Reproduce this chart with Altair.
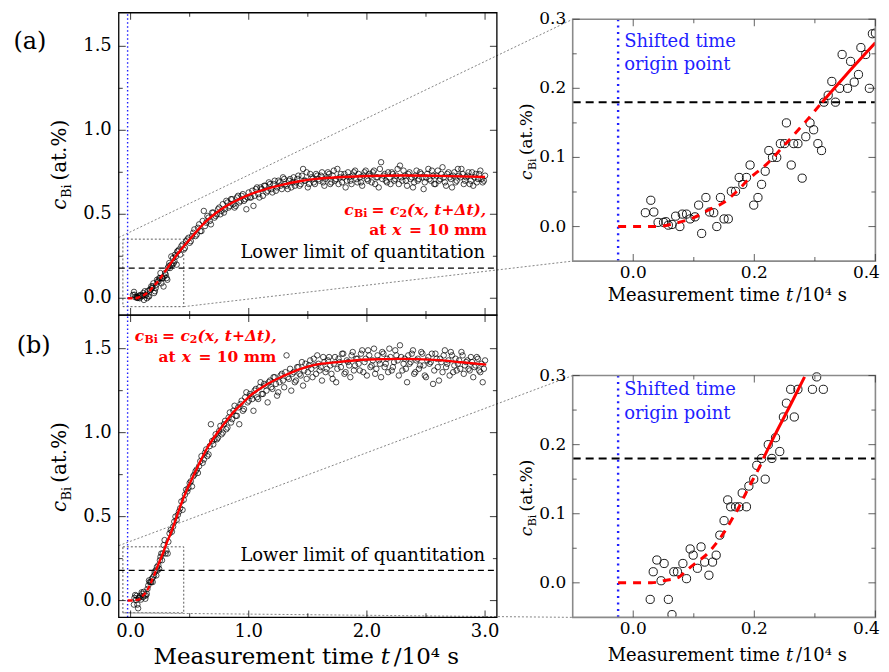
import altair as alt
import pandas as pd

FONT = "DejaVu Serif"

# ---------------- data ----------------
# (a) early points (also shown in the zoomed panel)
A_T_EARLY = [0.020, 0.029, 0.034, 0.041, 0.050, 0.054, 0.058, 0.064, 0.070, 0.077,
             0.081, 0.088, 0.094, 0.102, 0.108, 0.113, 0.120, 0.126, 0.133, 0.138,
             0.144, 0.150, 0.157, 0.162, 0.169, 0.175, 0.181, 0.187, 0.193, 0.199,
             0.206, 0.212, 0.218, 0.224, 0.230, 0.237, 0.243, 0.250, 0.253, 0.261,
             0.265, 0.272, 0.279, 0.285, 0.292, 0.298, 0.305, 0.311, 0.315, 0.322,
             0.328, 0.334, 0.341, 0.345, 0.354, 0.359, 0.365, 0.372, 0.376, 0.384,
             0.390, 0.395]
A_C_EARLY = [0.020, 0.038, 0.021, 0.006, 0.006, 0.007, 0.002, 0.003, 0.015, 0.000,
             0.018, 0.018, 0.011, 0.014, 0.031, -0.010, 0.042, 0.021, 0.020, 0.000,
             0.042, 0.011, 0.011, 0.051, 0.051, 0.071, 0.061, 0.071, 0.089, 0.031,
             0.042, 0.061, 0.080, 0.110, 0.100, 0.100, 0.120, 0.120, 0.150, 0.089,
             0.120, 0.120, 0.070, 0.130, 0.150, 0.140, 0.120, 0.110, 0.180, 0.190,
             0.210, 0.180, 0.200, 0.249, 0.200, 0.239, 0.209, 0.220, 0.259, 0.249,
             0.200, 0.279]
A_T_MAIN = [0.40, 0.42, 0.44, 0.46, 0.48, 0.50, 0.52, 0.54, 0.56, 0.58,
            0.60, 0.62, 0.64, 0.66, 0.68, 0.70, 0.72, 0.74, 0.76, 0.78,
            0.80, 0.82, 0.84, 0.86, 0.88, 0.90, 0.92, 0.94, 0.96, 0.98,
            1.00, 1.02, 1.04, 1.06, 1.08, 1.10, 1.12, 1.14, 1.16, 1.18,
            1.20, 1.22, 1.24, 1.26, 1.28, 1.30, 1.32, 1.34, 1.36, 1.38,
            1.40, 1.42, 1.44, 1.46, 1.48, 1.50, 1.52, 1.54, 1.56, 1.58,
            1.60, 1.62, 1.64, 1.66, 1.68, 1.70, 1.72, 1.74, 1.76, 1.78,
            1.80, 1.82, 1.84, 1.86, 1.88, 1.90, 1.92, 1.94, 1.96, 1.98,
            2.00, 2.02, 2.04, 2.06, 2.08, 2.10, 2.12, 2.14, 2.16, 2.18,
            2.20, 2.22, 2.24, 2.26, 2.28, 2.30, 2.32, 2.34, 2.36, 2.38,
            2.40, 2.42, 2.44, 2.46, 2.48, 2.50, 2.52, 2.54, 2.56, 2.58,
            2.60, 2.62, 2.64, 2.66, 2.68, 2.70, 2.72, 2.74, 2.76, 2.78,
            2.80, 2.82, 2.84, 2.86, 2.88, 2.90, 2.92, 2.94, 2.96, 2.98,
            3.00]
A_C_MAIN = [0.28, 0.26, 0.32, 0.30, 0.35, 0.33, 0.37, 0.41, 0.38, 0.44,
            0.40, 0.52, 0.45, 0.48, 0.44, 0.51, 0.49, 0.53, 0.50, 0.56,
            0.53, 0.57, 0.55, 0.59, 0.54, 0.60, 0.57, 0.61, 0.58, 0.53,
            0.63, 0.60, 0.55, 0.65, 0.62, 0.66, 0.61, 0.67, 0.64, 0.68,
            0.63, 0.70, 0.66, 0.69, 0.65, 0.71, 0.67, 0.70, 0.66, 0.72,
            0.69, 0.73, 0.68, 0.77, 0.70, 0.66, 0.74, 0.71, 0.68, 0.73,
            0.70, 0.75, 0.67, 0.72, 0.74, 0.69, 0.76, 0.71, 0.68, 0.74,
            0.72, 0.66, 0.75, 0.70, 0.73, 0.76, 0.69, 0.72, 0.67, 0.75,
            0.71, 0.74, 0.69, 0.76, 0.72, 0.66, 0.81, 0.73, 0.70, 0.75,
            0.68, 0.74, 0.71, 0.77, 0.79, 0.70, 0.73, 0.67, 0.75, 0.72,
            0.69, 0.76, 0.71, 0.74, 0.65, 0.72, 0.77, 0.70, 0.73, 0.68,
            0.76, 0.71, 0.78, 0.69, 0.74, 0.72, 0.66, 0.75, 0.70, 0.73,
            0.77, 0.68, 0.72, 0.75, 0.70, 0.67, 0.74, 0.71, 0.76, 0.69,
            0.73]
A_T_MAIN2 = [0.41, 0.43, 0.45, 0.47, 0.49, 0.51, 0.53, 0.55, 0.57, 0.59,
             0.61, 0.63, 0.65, 0.67, 0.69, 0.71, 0.73, 0.75, 0.77, 0.79,
             0.81, 0.83, 0.85, 0.87, 0.89, 0.91, 0.93, 0.95, 0.97, 0.99,
             1.01, 1.03, 1.05, 1.07, 1.09, 1.11, 1.13, 1.15, 1.17, 1.19,
             1.21, 1.23, 1.25, 1.27, 1.29, 1.31, 1.33, 1.35, 1.37, 1.39,
             1.41, 1.43, 1.45, 1.47, 1.49, 1.51, 1.53, 1.55, 1.57, 1.59,
             1.61, 1.63, 1.65, 1.67, 1.69, 1.71, 1.73, 1.75, 1.77, 1.79,
             1.81, 1.83, 1.85, 1.87, 1.89, 1.91, 1.93, 1.95, 1.97, 1.99,
             2.01, 2.03, 2.05, 2.07, 2.09, 2.11, 2.13, 2.15, 2.17, 2.19,
             2.21, 2.23, 2.25, 2.27, 2.29, 2.31, 2.33, 2.35, 2.37, 2.39,
             2.41, 2.43, 2.45, 2.47, 2.49, 2.51, 2.53, 2.55, 2.57, 2.59,
             2.61, 2.63, 2.65, 2.67, 2.69, 2.71, 2.73, 2.75, 2.77, 2.79,
             2.81, 2.83, 2.85, 2.87, 2.89, 2.91, 2.93, 2.95, 2.97, 2.99]
A_C_MAIN2 = [0.29, 0.31, 0.29, 0.34, 0.36, 0.34, 0.39, 0.37, 0.42, 0.40,
             0.46, 0.43, 0.49, 0.46, 0.51, 0.48, 0.50, 0.54, 0.52, 0.51,
             0.58, 0.54, 0.59, 0.56, 0.55, 0.61, 0.58, 0.62, 0.59, 0.60,
             0.60, 0.64, 0.61, 0.66, 0.60, 0.65, 0.67, 0.63, 0.69, 0.65,
             0.68, 0.64, 0.70, 0.67, 0.72, 0.68, 0.65, 0.71, 0.69, 0.67,
             0.71, 0.67, 0.73, 0.70, 0.75, 0.68, 0.72, 0.69, 0.74, 0.71,
             0.73, 0.69, 0.71, 0.75, 0.68, 0.73, 0.70, 0.77, 0.72, 0.69,
             0.74, 0.70, 0.72, 0.68, 0.75, 0.71, 0.74, 0.69, 0.73, 0.76,
             0.70, 0.73, 0.75, 0.68, 0.72, 0.77, 0.71, 0.74, 0.69, 0.72,
             0.75, 0.70, 0.73, 0.68, 0.72, 0.76, 0.70, 0.74, 0.71, 0.66,
             0.73, 0.70, 0.75, 0.72, 0.69, 0.74, 0.71, 0.76, 0.68, 0.73,
             0.70, 0.74, 0.72, 0.67, 0.75, 0.71, 0.73, 0.69, 0.77, 0.72,
             0.74, 0.70, 0.73, 0.68, 0.75, 0.72, 0.69, 0.74, 0.71, 0.70]

# (b)
B_T_EARLY = [0.028, 0.033, 0.039, 0.046, 0.051, 0.058, 0.064, 0.067, 0.073, 0.082,
             0.088, 0.094, 0.099, 0.106, 0.112, 0.118, 0.125, 0.131, 0.137, 0.143,
             0.150, 0.156, 0.161, 0.169, 0.175, 0.180, 0.187, 0.191, 0.199, 0.204,
             0.212, 0.218, 0.223, 0.229, 0.235, 0.242, 0.248, 0.253, 0.260, 0.266,
             0.272, 0.280, 0.288, 0.296, 0.303, 0.314]
B_C_EARLY = [-0.024, 0.016, 0.033, 0.003, 0.028, -0.024, -0.046, 0.016, 0.016, 0.028,
             0.006, 0.049, 0.040, 0.021, 0.052, 0.030, 0.011, 0.030, 0.040, 0.069,
             0.090, 0.120, 0.110, 0.110, 0.110, 0.130, 0.110, 0.140, 0.150, 0.170,
             0.180, 0.150, 0.200, 0.180, 0.210, 0.190, 0.240, 0.260, 0.280, 0.240,
             0.280, 0.330, 0.360, 0.280, 0.298, 0.280]
B_T_MAIN = [0.32, 0.34, 0.36, 0.38, 0.40, 0.42, 0.44, 0.46, 0.48, 0.50,
            0.52, 0.54, 0.56, 0.58, 0.60, 0.62, 0.64, 0.66, 0.68, 0.70,
            0.72, 0.74, 0.76, 0.78, 0.80, 0.82, 0.84, 0.86, 0.88, 0.90,
            0.92, 0.94, 0.96, 0.98, 1.00, 1.02, 1.04, 1.06, 1.08, 1.10,
            1.12, 1.14, 1.16, 1.18, 1.20, 1.22, 1.24, 1.26, 1.28, 1.30,
            1.32, 1.34, 1.36, 1.38, 1.40, 1.42, 1.44, 1.46, 1.48, 1.50,
            1.52, 1.54, 1.56, 1.58, 1.60, 1.62, 1.64, 1.66, 1.68, 1.70,
            1.72, 1.74, 1.76, 1.78, 1.80, 1.82, 1.84, 1.86, 1.88, 1.90,
            1.92, 1.94, 1.96, 1.98, 2.00, 2.02, 2.04, 2.06, 2.08, 2.10,
            2.12, 2.14, 2.16, 2.18, 2.20, 2.22, 2.24, 2.26, 2.28, 2.30,
            2.32, 2.34, 2.36, 2.38, 2.40, 2.42, 2.44, 2.46, 2.48, 2.50,
            2.52, 2.54, 2.56, 2.58, 2.60, 2.62, 2.64, 2.66, 2.68, 2.70,
            2.72, 2.74, 2.76, 2.78, 2.80, 2.82, 2.84, 2.86, 2.88, 2.90,
            2.92, 2.94, 2.96, 2.98, 3.00]
B_C_MAIN = [0.35, 0.42, 0.44, 0.50, 0.51, 0.55, 0.54, 0.63, 0.65, 0.70,
            0.68, 0.75, 0.78, 0.80, 0.86, 0.84, 0.90, 0.87, 1.05, 0.93,
            0.99, 0.97, 1.04, 1.00, 1.07, 1.03, 1.12, 1.08, 1.16, 1.10,
            1.05, 1.19, 1.14, 1.24, 1.19, 1.22, 1.13, 1.26, 1.20, 1.30,
            1.23, 1.28, 1.18, 1.31, 1.26, 1.33, 1.22, 1.30, 1.35, 1.27,
            1.46, 1.32, 1.25, 1.36, 1.31, 1.39, 1.34, 1.28, 1.41, 1.36,
            1.43, 1.33, 1.40, 1.46, 1.37, 1.31, 1.42, 1.38, 1.45, 1.35,
            1.41, 1.30, 1.44, 1.39, 1.47, 1.36, 1.42, 1.33, 1.48, 1.40,
            1.44, 1.37, 1.49, 1.42, 1.34, 1.46, 1.40, 1.50, 1.38, 1.43,
            1.33, 1.47, 1.41, 1.36, 1.45, 1.39, 1.49, 1.43, 1.52, 1.37,
            1.44, 1.30, 1.41, 1.47, 1.35, 1.43, 1.38, 1.48, 1.40, 1.33,
            1.45, 1.42, 1.29, 1.47, 1.39, 1.44, 1.36, 1.49, 1.41, 1.34,
            1.46, 1.40, 1.37, 1.43, 1.48, 1.35, 1.42, 1.38, 1.45, 1.33,
            1.40, 1.44, 1.36, 1.30, 1.43]
B_T_MAIN2 = [0.33, 0.35, 0.37, 0.39, 0.41, 0.43, 0.45, 0.47, 0.49, 0.51,
             0.53, 0.55, 0.57, 0.59, 0.61, 0.63, 0.65, 0.67, 0.69, 0.71,
             0.73, 0.75, 0.77, 0.79, 0.81, 0.83, 0.85, 0.87, 0.89, 0.91,
             0.93, 0.95, 0.97, 0.99, 1.01, 1.03, 1.05, 1.07, 1.09, 1.11,
             1.13, 1.15, 1.17, 1.19, 1.21, 1.23, 1.25, 1.27, 1.29, 1.31,
             1.33, 1.35, 1.37, 1.39, 1.41, 1.43, 1.45, 1.47, 1.49, 1.51,
             1.53, 1.55, 1.57, 1.59, 1.61, 1.63, 1.65, 1.67, 1.69, 1.71,
             1.73, 1.75, 1.77, 1.79, 1.81, 1.83, 1.85, 1.87, 1.89, 1.91,
             1.93, 1.95, 1.97, 1.99, 2.01, 2.03, 2.05, 2.07, 2.09, 2.11,
             2.13, 2.15, 2.17, 2.19, 2.21, 2.23, 2.25, 2.27, 2.29, 2.31,
             2.33, 2.35, 2.37, 2.39, 2.41, 2.43, 2.45, 2.47, 2.49, 2.51,
             2.53, 2.55, 2.57, 2.59, 2.61, 2.63, 2.65, 2.67, 2.69, 2.71,
             2.73, 2.75, 2.77, 2.79, 2.81, 2.83, 2.85, 2.87, 2.89, 2.91,
             2.93, 2.95, 2.97, 2.99]
B_C_MAIN2 = [0.40, 0.41, 0.47, 0.48, 0.53, 0.59, 0.60, 0.66, 0.67, 0.71,
             0.74, 0.77, 0.76, 0.83, 0.82, 0.88, 0.86, 0.92, 0.95, 0.96,
             0.96, 1.01, 0.99, 1.05, 1.02, 1.09, 1.06, 1.13, 1.10, 1.15,
             1.17, 1.13, 1.21, 1.18, 1.23, 1.20, 1.25, 1.21, 1.27, 1.23,
             1.29, 1.25, 1.30, 1.27, 1.33, 1.29, 1.24, 1.34, 1.31, 1.36,
             1.33, 1.38, 1.35, 1.30, 1.39, 1.35, 1.42, 1.37, 1.32, 1.40,
             1.38, 1.44, 1.35, 1.41, 1.39, 1.45, 1.36, 1.43, 1.40, 1.32,
             1.45, 1.38, 1.42, 1.47, 1.35, 1.43, 1.40, 1.46, 1.37, 1.44,
             1.41, 1.47, 1.36, 1.44, 1.49, 1.39, 1.43, 1.35, 1.46, 1.41,
             1.48, 1.39, 1.44, 1.50, 1.37, 1.42, 1.46, 1.34, 1.45, 1.41,
             1.38, 1.46, 1.42, 1.49, 1.36, 1.44, 1.40, 1.47, 1.34, 1.43,
             1.41, 1.47, 1.37, 1.44, 1.31, 1.42, 1.46, 1.39, 1.43, 1.48,
             1.36, 1.44, 1.41, 1.38, 1.46, 1.40, 1.43, 1.37, 1.42, 1.39,
             1.45, 1.37, 1.41, 1.38]

# fitted curves c2(x, t+dt): dashed below the limit of quantitation, solid above
A_DASH_T = [-0.025, 0.0, 0.04, 0.066, 0.10, 0.127, 0.15, 0.17, 0.19, 0.22, 0.25, 0.28, 0.312]
A_DASH_C = [0.0, 0.0, 0.0, 0.004, 0.013, 0.025, 0.035, 0.050, 0.068, 0.090, 0.118, 0.147, 0.180]
A_SOLID_T = [0.312, 0.35, 0.40, 0.45, 0.50, 0.586, 0.65, 0.726, 0.80, 0.867, 1.00, 1.15,
             1.29, 1.43, 1.57, 1.80, 2.00, 2.30, 2.60, 2.80, 3.00]
A_SOLID_C = [0.180, 0.218, 0.266, 0.310, 0.350, 0.420, 0.465, 0.509, 0.545, 0.572, 0.616, 0.651,
             0.677, 0.697, 0.711, 0.722, 0.728, 0.731, 0.729, 0.726, 0.722]
B_DASH_T = [-0.025, 0.0, 0.03, 0.05, 0.075, 0.088, 0.105, 0.12, 0.135, 0.15, 0.165, 0.175,
            0.185, 0.195, 0.207, 0.215]
B_DASH_C = [0.0, 0.0, 0.0, 0.003, 0.008, 0.018, 0.030, 0.040, 0.055, 0.073, 0.095, 0.110,
            0.128, 0.145, 0.165, 0.180]
B_SOLID_T = [0.215, 0.234, 0.26, 0.283, 0.304, 0.34, 0.375, 0.41, 0.445, 0.48, 0.515, 0.55,
             0.586, 0.65, 0.726, 0.80, 0.867, 0.94, 1.008, 1.149, 1.29, 1.44, 1.57, 1.726,
             2.01, 2.29, 2.57, 2.80, 3.01]
B_SOLID_C = [0.180, 0.214, 0.258, 0.298, 0.340, 0.400, 0.468, 0.540, 0.606, 0.665, 0.718, 0.770,
             0.823, 0.910, 0.990, 1.060, 1.119, 1.170, 1.217, 1.286, 1.336, 1.380, 1.405, 1.418,
             1.435, 1.439, 1.433, 1.419, 1.405]

LLOQ = 0.18
T_ORIGIN = -0.025

LEFT_X_TICKS = [0.0, 1.0, 2.0, 3.0]
LEFT_X_MINOR = [0.5, 1.5, 2.5]
LEFT_Y_TICKS = [0.0, 0.5, 1.0, 1.5]
LEFT_Y_MINOR = [0.25, 0.75, 1.25]
RIGHT_X_TICKS = [0.0, 0.2, 0.4]
RIGHT_X_MINOR = [0.1, 0.3]
RIGHT_Y_TICKS = [0.0, 0.1, 0.2, 0.3]
RIGHT_Y_MINOR = [0.05, 0.15, 0.25]

# zoom boxes drawn in the left panels (t0, t1, c0, c1)
ZOOM_A = (-0.065, 0.45, -0.05, 0.352)
ZOOM_B = (-0.065, 0.45, -0.073, 0.32)
LINK_START_A = 0.362
LINK_START_B = 0.327

# ---------------- layout ----------------
LW, LH = 379, 303
RW, RFH = 303.4, 242.4
GAP = 76
RA_TOP, RB_TOP = 6.5, 60.6
LX = (-0.1, 3.1)
LY = (-0.1, 1.7)
RX = (-0.1, 0.4)
RY = (-0.05, 0.3)
R_UNIT = (RY[1] - RY[0]) / RFH
LINK_X_END = LX[0] + (LW + GAP) * (LX[1] - LX[0]) / LW


def left_y_at(px):
    return LY[1] - px * (LY[1] - LY[0]) / LH


ONE = alt.Data(values=[{"k": 0}])
MAJ, MIN = 7, 4


def tx(s, x, y, size, color="black", align="left", baseline="middle",
       weight="normal", style="normal", dx=0, dy=0, angle=None):
    kw = dict(text=s, font=FONT, fontSize=size, color=color, align=align,
              baseline=baseline, fontWeight=weight, fontStyle=style, dx=dx, dy=dy)
    if angle is not None:
        kw["angle"] = angle
    return alt.Chart(ONE).mark_text(**kw).encode(x=x, y=y)


def panel(df, dash, solid, xdom, ydom, frame, ticks, xlab, ylab, big, extra, height,
          filt=None):
    xs = alt.Scale(domain=list(xdom), nice=False, zero=False)
    ys = alt.Scale(domain=list(ydom), nice=False, zero=False)
    fx0, fx1, fy0, fy1 = frame

    def XD(v):
        return alt.XDatum(datum=v, scale=xs, axis=None)

    def YD(v):
        return alt.YDatum(datum=v, scale=ys, axis=None)

    layers = []
    extra_layers = extra(XD, YD)
    layers += extra_layers["under"]

    # scatter
    base = alt.Chart(df)
    if filt:
        base = base.transform_filter(filt)
    layers.append(
        base.mark_point(shape="circle", filled=False, color="black",
                        size=68 if big else 30, strokeWidth=0.9 if big else 0.7,
                        opacity=1, clip=True)
        .encode(x=alt.X("t:Q", scale=xs, axis=None),
                y=alt.Y("c:Q", scale=ys, axis=None))
    )
    # LLOQ
    layers.append(
        alt.Chart(ONE).mark_rule(color="black", strokeWidth=2 if big else 1.3,
                                 strokeDash=[8, 5] if big else [6, 4])
        .encode(x=XD(fx0), x2=alt.X2Datum(fx1), y=YD(LLOQ))
    )
    # shifted time origin
    layers.append(
        alt.Chart(ONE).mark_rule(color="#1f1fff", strokeWidth=2.4 if big else 1.4,
                                 strokeDash=[2, 4.5] if big else [1.5, 2.5])
        .encode(x=XD(T_ORIGIN), y=YD(fy0), y2=alt.Y2Datum(fy1))
    )
    # fitted curve
    for part, d in (("dash", dash), ("solid", solid)):
        ch = alt.Chart(d)
        if filt:
            ch = ch.transform_filter(filt)
        kw = dict(color="#ff0000", strokeWidth=3 if big else 2.4, interpolate="monotone",
                  clip=True)
        if part == "dash":
            kw["strokeDash"] = [8, 7] if big else [5, 3]
        layers.append(ch.mark_line(**kw).encode(
            x=alt.X("t:Q", scale=xs, axis=None), y=alt.Y("c:Q", scale=ys, axis=None)))

    # frame
    layers.append(
        alt.Chart(ONE).mark_rect(filled=False, stroke="#8a8a8a" if big else "black",
                                 strokeWidth=1.6 if big else 1.3)
        .encode(x=XD(fx0), x2=alt.X2Datum(fx1), y=YD(fy0), y2=alt.Y2Datum(fy1))
    )
    # inward ticks on all four sides
    xmaj, xmin_, ymaj, ymin_ = ticks
    tcol = "#333333" if big else "black"
    for vals, L in ((xmaj, MAJ), (xmin_, MIN)):
        dfv = pd.DataFrame({"v": vals})
        for edge, off in ((fy0, -L / 2), (fy1, L / 2)):
            layers.append(
                alt.Chart(dfv).mark_tick(orient="vertical", size=L, thickness=1.1,
                                         color=tcol, yOffset=off)
                .encode(x=alt.X("v:Q", scale=xs, axis=None), y=YD(edge))
            )
    for vals, L in ((ymaj, MAJ), (ymin_, MIN)):
        dfv = pd.DataFrame({"v": vals})
        for edge, off in ((fx0, L / 2), (fx1, -L / 2)):
            layers.append(
                alt.Chart(dfv).mark_tick(orient="horizontal", size=L, thickness=1.1,
                                         color=tcol, xOffset=off)
                .encode(y=alt.Y("v:Q", scale=ys, axis=None), x=XD(edge))
            )
    # tick labels
    if xlab is not None:
        vals, size, pad, flush_last = xlab
        groups = [(vals[:-1], "center", 0), (vals[-1:], "right", 4.5)] if flush_last \
            else [(vals, "center", 0)]
        for vv, al, ddx in groups:
            layers.append(
                alt.Chart(pd.DataFrame({"v": vv}))
                .transform_calculate(lab="format(datum.v, '.1f')")
                .mark_text(font=FONT, fontSize=size, baseline="top", align=al, dy=pad,
                           dx=ddx, color="black")
                .encode(x=alt.X("v:Q", scale=xs, axis=None), y=YD(fy0), text="lab:N")
            )
    if ylab is not None:
        vals, size, pad = ylab
        layers.append(
            alt.Chart(pd.DataFrame({"v": vals}))
            .transform_calculate(lab="format(datum.v, '.1f')")
            .mark_text(font=FONT, fontSize=size, align="right", baseline="middle",
                       dx=-pad, color="black")
            .encode(y=alt.Y("v:Q", scale=ys, axis=None), x=XD(fx0), text="lab:N")
        )
    layers += extra_layers["over"]
    return alt.layer(*layers).properties(width=RW if big else LW, height=height)


def left_extra(zoom, link_start, r_gap, label, label_xy, f1, f2, lloq_c, show_xtitle):
    def f(XD, YD):
        z0, z1, c0, c1 = zoom
        under = [
            alt.Chart(ONE).mark_rect(filled=False, stroke="#333333", strokeWidth=0.8,
                                     strokeDash=[2, 2])
            .encode(x=XD(z0), x2=alt.X2Datum(z1), y=YD(c0), y2=alt.Y2Datum(c1)),
            alt.Chart(ONE).mark_rule(color="#666666", strokeWidth=0.8, strokeDash=[2, 2])
            .encode(x=XD(LX[0]), x2=alt.X2Datum(LINK_X_END), y=YD(link_start),
                    y2=alt.Y2Datum(left_y_at(r_gap))),
            alt.Chart(ONE).mark_rule(color="#666666", strokeWidth=0.8, strokeDash=[2, 2])
            .encode(x=XD(z1 if label == "(a)" else z0), x2=alt.X2Datum(LINK_X_END),
                    y=YD(c0), y2=alt.Y2Datum(left_y_at(r_gap + RFH))),
        ]
        S, s = 15.5, 11
        red = "#ff0000"
        over = [
            tx(label, alt.value(label_xy[0]), alt.value(label_xy[1]), 24),
            tx("Lower limit of quantitation", XD(3.0), YD(lloq_c), 18, align="right"),
            # y-axis title: c_Bi (at.%)
            tx("c", alt.value(-53), alt.value(LH / 2), 20, style="italic", angle=270,
               baseline="alphabetic", dx=-46),
            tx("Bi", alt.value(-53), alt.value(LH / 2), 13, angle=270,
               baseline="alphabetic", dx=-34.3, dy=5),
            tx("(at.%)", alt.value(-53), alt.value(LH / 2), 20, angle=270,
               baseline="alphabetic", dx=-16.7),
        ]
        t1, y1 = f1
        t2, y2 = f2
        for s_, dx, dy, sz, st in (("c", 0, 0, S, "italic"), ("Bi", 9.7, 4, s, "normal"),
                                   ("=", 27.4, 0, S, "normal"), ("c", 45.9, 0, S, "italic"),
                                   ("2", 55.3, 4, s, "normal"),
                                   ("(x, t+Δt),", 63, 0, S, "italic")):
            over.append(tx(s_, XD(t1), YD(y1), sz, color=red, weight="bold", style=st,
                           dx=dx, dy=dy))
        for s_, dx, st in (("at", 0, "normal"), ("x", 23.2, "italic"), ("= 10 mm", 40, "normal")):
            over.append(tx(s_, XD(t2), YD(y2), S, color=red, weight="bold", style=st, dx=dx))
        if show_xtitle:
            yb = alt.value(LH + 47)
            over += [
                tx("Measurement time", alt.value(262.7), yb, 23, align="right",
                   baseline="alphabetic", dx=-7),
                tx("t", alt.value(262.7), yb, 23, style="italic", baseline="alphabetic"),
                tx("/10⁴ s", alt.value(262.7), yb, 23, baseline="alphabetic", dx=13),
            ]
        return {"under": under, "over": over}
    return f


def right_extra(txt_c1, txt_c2, height):
    def f(XD, YD):
        blue = "#1f1fff"
        yb = alt.value(height + (40 if height < 280 else 44))
        over = [
            tx("Shifted time", XD(-0.015), YD(txt_c1), 18, color=blue),
            tx("origin point", XD(-0.015), YD(txt_c2), 18, color=blue),
            tx("c", alt.value(-41), YD(0.125), 17, style="italic", angle=270,
               baseline="alphabetic", dx=-40),
            tx("Bi", alt.value(-41), YD(0.125), 11, angle=270,
               baseline="alphabetic", dx=-30, dy=4),
            tx("(at.%)", alt.value(-41), YD(0.125), 17, angle=270,
               baseline="alphabetic", dx=-15),
            tx("Measurement time", alt.value(213.7), yb, 18, align="right",
               baseline="alphabetic", dx=-6),
            tx("t", alt.value(213.7), yb, 18, style="italic", baseline="alphabetic"),
            tx("/10⁴ s", alt.value(213.7), yb, 18, baseline="alphabetic", dx=10),
        ]
        return {"under": [], "over": over}
    return f


dfA = pd.DataFrame({"t": A_T_EARLY + A_T_MAIN + A_T_MAIN2,
                    "c": A_C_EARLY + A_C_MAIN + A_C_MAIN2})
dfB = pd.DataFrame({"t": B_T_EARLY + B_T_MAIN + B_T_MAIN2,
                    "c": B_C_EARLY + B_C_MAIN + B_C_MAIN2})
dashA = pd.DataFrame({"t": A_DASH_T, "c": A_DASH_C})
solidA = pd.DataFrame({"t": A_SOLID_T, "c": A_SOLID_C})
dashB = pd.DataFrame({"t": B_DASH_T, "c": B_DASH_C})
solidB = pd.DataFrame({"t": B_SOLID_T, "c": B_SOLID_C})

left_ticks = (LEFT_X_TICKS, LEFT_X_MINOR, LEFT_Y_TICKS, LEFT_Y_MINOR)
right_ticks = (RIGHT_X_TICKS, RIGHT_X_MINOR, RIGHT_Y_TICKS, RIGHT_Y_MINOR)
FILT = "datum.c <= 0.305 && datum.t <= 0.405"

RA_H = RFH + RA_TOP
RB_H = RFH + RB_TOP

pa = panel(dfA, dashA, solidA, LX, LY, (LX[0], LX[1], LY[0], LY[1]), left_ticks,
           None, (LEFT_Y_TICKS, 18, 7), False,
           left_extra(ZOOM_A, LINK_START_A, RA_TOP, "(a)", (-105.6, 29),
                      (1.808, 0.5255), (2.019, 0.407), 0.272, False), LH)
pb = panel(dfB, dashB, solidB, LX, LY, (LX[0], LX[1], LY[0], LY[1]), left_ticks,
           (LEFT_X_TICKS, 18, 6, False), (LEFT_Y_TICKS, 18, 7), False,
           left_extra(ZOOM_B, LINK_START_B, RB_TOP, "(b)", (-102.3, 31.3),
                      (0.035, 1.578), (0.237, 1.449), 0.266, True), LH)
pra = panel(dfA, dashA, solidA, RX, (RY[0], RY[1] + RA_TOP * R_UNIT),
            (RX[0], RX[1], RY[0], RY[1]), right_ticks,
            (RIGHT_X_TICKS, 17, 4, True), (RIGHT_Y_TICKS, 17, 6.5), True,
            right_extra(0.267, 0.2335, RA_H), RA_H, filt=FILT)
prb = panel(dfB, dashB, solidB, RX, (RY[0], RY[1] + RB_TOP * R_UNIT),
            (RX[0], RX[1], RY[0], RY[1]), right_ticks,
            (RIGHT_X_TICKS, 17, 4, True), (RIGHT_Y_TICKS, 17, 6.5), True,
            right_extra(0.279, 0.2436, RB_H), RB_H, filt=FILT)

chart = (
    alt.concat(pa, pra, pb, prb, columns=2, spacing={"row": 0, "column": GAP},
               bounds="flush")
    .properties(padding={"left": 4, "top": 0, "right": 0, "bottom": 0})
    .configure_view(stroke="transparent")
)

chart.save("out.html", embed_options={"renderer": "svg", "actions": False})
